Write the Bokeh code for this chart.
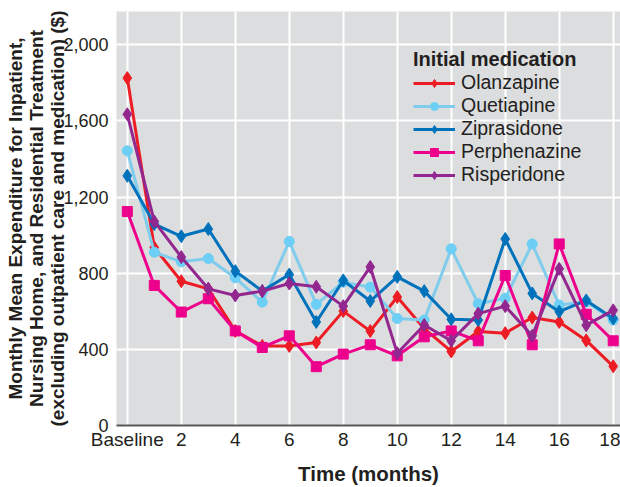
from bokeh.plotting import figure
from bokeh.models import FixedTicker, Range1d, Legend, LegendItem, NumeralTickFormatter
from bokeh.embed import file_html
from bokeh.resources import INLINE

months = list(range(19))
tick_months = [0, 2, 4, 6, 8, 10, 12, 14, 16, 18]
y_ticks = [0, 400, 800, 1200, 1600, 2000]

olanzapine = [1825, 935, 758, 718, 497, 418, 418, 436, 601, 496, 675, 509, 389, 494, 485, 567, 544, 447, 311]
quetiapine = [1443, 910, 860, 877, 776, 648, 967, 636, 753, 727, 562, 554, 928, 640, 668, 954, 633, 650, 554]
ziprasidone = [1312, 1058, 994, 1032, 811, 706, 793, 544, 762, 654, 781, 706, 558, 554, 980, 694, 598, 657, 562]
perphenazine = [1124, 736, 596, 666, 497, 410, 471, 309, 375, 424, 366, 466, 497, 445, 788, 424, 954, 584, 445]
risperidone = [1635, 1072, 885, 718, 683, 706, 746, 729, 627, 833, 380, 528, 445, 588, 627, 471, 823, 527, 605]

FONT = "Liberation Sans"
TXT = "#231F20"

p = figure(width=620, height=487, x_range=Range1d(-0.4, 18.27), y_range=Range1d(0, 2175),
           output_backend="svg", toolbar_location=None,
           min_border_left=116, min_border_right=0, min_border_top=11, min_border_bottom=61)
p.background_fill_color = "#DCDDDE"
p.border_fill_color = "white"
p.outline_line_color = None

p.xaxis.ticker = FixedTicker(ticks=tick_months)
p.xaxis.major_label_overrides = {0: "Baseline"}
p.xaxis.axis_line_color = "#58595B"
p.xaxis.axis_line_width = 2
p.xaxis.major_tick_line_color = None
p.xaxis.minor_tick_line_color = None
p.xaxis.major_label_standoff = -3
p.xaxis.major_label_text_font = FONT
p.xaxis.major_label_text_font_size = "19px"
p.xaxis.major_label_text_color = TXT
p.xaxis.axis_label = "Time (months)"
p.xaxis.axis_label_text_font = FONT
p.xaxis.axis_label_text_font_style = "bold"
p.xaxis.axis_label_text_font_size = "20.5px"
p.xaxis.axis_label_text_color = TXT
p.xaxis.axis_label_standoff = 9

p.yaxis.ticker = FixedTicker(ticks=y_ticks)
p.yaxis.formatter = NumeralTickFormatter(format="0,0")
p.yaxis.axis_line_color = None
p.yaxis.major_tick_line_color = None
p.yaxis.minor_tick_line_color = None
p.yaxis.major_label_standoff = 2
p.yaxis.major_label_text_font = FONT
p.yaxis.major_label_text_font_size = "18px"
p.yaxis.major_label_text_color = TXT
p.yaxis.axis_label = ("Monthly Mean Expenditure for Inpatient,\n"
                      "Nursing Home, and Residential Treatment\n"
                      "(excluding outpatient care and medication) ($)")
p.yaxis.axis_label_text_font = FONT
p.yaxis.axis_label_text_font_style = "bold"
p.yaxis.axis_label_text_font_size = "19px"
p.yaxis.axis_label_text_color = TXT
p.yaxis.axis_label_text_line_height = 1.0
p.yaxis.axis_label_standoff = -8

p.xgrid.ticker = FixedTicker(ticks=tick_months)
p.ygrid.ticker = FixedTicker(ticks=y_ticks)
for g in (p.xgrid, p.ygrid):
    g.grid_line_color = "white"
    g.grid_line_width = 2

series = [
    ("Olanzapine", olanzapine, "#ED1C24", "#ED1C24", "diamond", 13),
    ("Quetiapine", quetiapine, "#7FCCEC", "#6DCFF6", "circle", 10),
    ("Ziprasidone", ziprasidone, "#0072BC", "#0072BC", "diamond", 13),
    ("Perphenazine", perphenazine, "#EC008C", "#EC008C", "square", 10),
    ("Risperidone", risperidone, "#92278F", "#92278F", "diamond", 13),
]

items = []
for name, vals, lc, mc, marker, size in series:
    r1 = p.line(months, vals, line_color=lc, line_width=3)
    r2 = p.scatter(months, vals, marker=marker, size=size, fill_color=mc, line_color=mc)
    items.append(LegendItem(label=name, renderers=[r1, r2]))

legend = Legend(items=items, location=(297, 239))
legend.title = "Initial medication"
legend.title_text_font = FONT
legend.title_text_font_style = "bold"
legend.title_text_font_size = "20px"
legend.title_text_color = TXT
legend.title_standoff = 0
legend.label_text_font = FONT
legend.label_text_font_size = "19.5px"
legend.label_text_color = TXT
legend.background_fill_alpha = 0
legend.border_line_alpha = 0
legend.padding = 0
legend.margin = 0
legend.spacing = 0
legend.glyph_width = 42
legend.glyph_height = 20
legend.label_height = 20
legend.label_standoff = 6
p.add_layout(legend)

open("out.html", "w").write(file_html(p, INLINE))
